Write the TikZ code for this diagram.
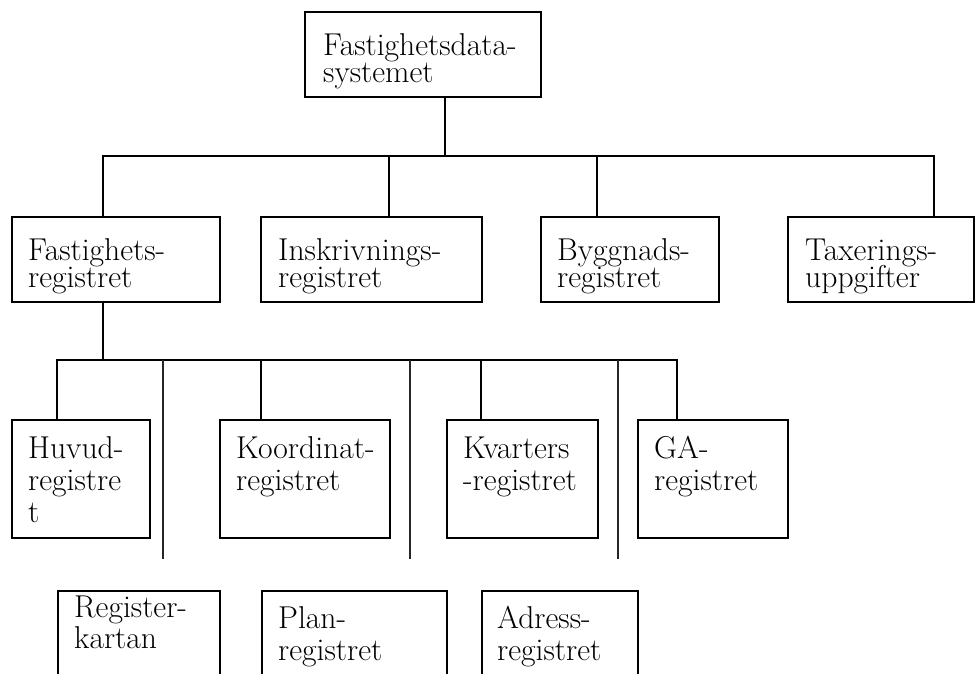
\documentclass[tikz,border=0pt]{standalone}
\newcommand{\lblfontA}{\fontsize{31.6}{27}\selectfont\lineskiplimit=-30pt\relax}
\newcommand{\lblfontB}{\fontsize{31.6}{32}\selectfont\lineskiplimit=-30pt\relax}
\newcommand{\lblfontC}{\fontsize{31.6}{31}\selectfont\lineskiplimit=-30pt\relax}
\begin{document}
\begin{tikzpicture}[x=1pt,y=-1pt,
  box/.style={draw, line width=2pt, inner sep=0pt, rectangle, anchor=north west},
  lbl/.style={anchor=north west, inner sep=0pt, align=left, font=\lblfontA},
  lbllow/.style={lbl, font=\lblfontB},
  conn/.style={line width=2pt, line join=miter},
  thin/.style={line width=1.2pt, black!85}]
\clip (0,0) rectangle (975,673);
\fill[white] (0,0) rectangle (975,673);
% boxes
\node[box, minimum width=236pt, minimum height=85pt] (top) at (304,11) {};
\node[box, minimum width=208pt, minimum height=85pt] (fr) at (11,216) {};
\node[box, minimum width=221pt, minimum height=85pt] (ir) at (260,216) {};
\node[box, minimum width=178pt, minimum height=85pt] (br) at (540,216) {};
\node[box, minimum width=186pt, minimum height=85pt] (tu) at (787,216) {};
\node[box, minimum width=138pt, minimum height=118pt] (hr) at (11,419) {};
\node[box, minimum width=170pt, minimum height=118pt] (kr) at (219,419) {};
\node[box, minimum width=151pt, minimum height=118pt] (kv) at (446,419) {};
\node[box, minimum width=150pt, minimum height=118pt] (ga) at (637,419) {};
\node[box, minimum width=162pt, minimum height=100pt] (rk) at (57,590) {};
\node[box, minimum width=185pt, minimum height=100pt] (pr) at (261,590) {};
\node[box, minimum width=156pt, minimum height=100pt] (ar) at (481,590) {};
% labels
\node[lbl] (ttop) at (323,33) {\rule{0pt}{22pt}Fastighetsdata-\\systemet};
\node[lbl] (tfr) at (28,238) {\rule{0pt}{22pt}Fastighets-\\registret};
\node[lbl] (tir) at (278,238) {\rule{0pt}{22pt}Inskrivnings-\\registret};
\node[lbl] (tbr) at (557,238) {\rule{0pt}{22pt}Byggnads-\\registret};
\node[lbl] (ttu) at (805,238) {\rule{0pt}{22pt}Taxerings-\\uppgifter};
\node[lbllow] (thr) at (28,436) {\rule{0pt}{22pt}Huvud-\\registre\\t};
\node[lbllow] (tkr) at (236,436) {\rule{0pt}{22pt}Koordinat-\\registret};
\node[lbllow] (tkv) at (463,436) {\rule{0pt}{22pt}Kvarters\\-registret};
\node[lbllow] (tga) at (654,436) {\rule{0pt}{22pt}GA-\\registret};
\node[lbllow, font=\lblfontC] (trk) at (74,595) {\rule{0pt}{22pt}Register-\\kartan};
\node[lbllow] (tpr) at (278,606) {\rule{0pt}{22pt}Plan-\\registret};
\node[lbllow] (tar) at (497,606) {\rule{0pt}{22pt}Adress-\\registret};
% junction coordinates
\coordinate (j0) at (445,156);
\coordinate (b1) at (103,156);
\coordinate (b2) at (389,156);
\coordinate (b3) at (597,156);
\coordinate (b4) at (934,156);
\coordinate (c0) at (103,360);
\coordinate (c1) at (57,360);
\coordinate (c2) at (163,360);
\coordinate (c3) at (261,360);
\coordinate (c4) at (410,360);
\coordinate (c5) at (481,360);
\coordinate (c6) at (618,360);
\coordinate (c7) at (677,360);
\coordinate (e2) at (163,559);
\coordinate (e4) at (410,559);
\coordinate (e6) at (618,559);
% connectors level 1-2
\draw[conn] (j0 |- top.south) -- (j0);
\draw[conn] (b1 |- fr.north) -- (b1) -- (b4) -- (b4 |- tu.north);
\draw[conn] (b2) -- (b2 |- ir.north);
\draw[conn] (b3) -- (b3 |- br.north);
% connectors level 2-3
\draw[conn] (c0 |- fr.south) -- (c0);
\draw[conn] (c1 |- hr.north) -- (c1) -- (c7) -- (c7 |- ga.north);
\draw[conn] (c3) -- (c3 |- kr.north);
\draw[conn] (c5) -- (c5 |- kv.north);
\draw[thin] (c2) -- (e2);
\draw[thin] (c4) -- (e4);
\draw[thin] (c6) -- (e6);
\end{tikzpicture}
\end{document}
